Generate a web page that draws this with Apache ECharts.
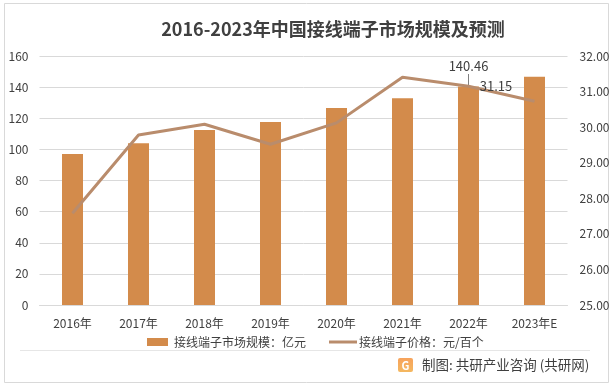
<!DOCTYPE html>
<html><head><meta charset="utf-8">
<script src="https://cdn.jsdelivr.net/npm/echarts@6/dist/echarts.min.js"></script>
<style>html,body{margin:0;padding:0;background:#fff}#c{width:615px;height:388px}</style>
</head><body><div id="c"></div>
<script>
const categories = ['2016年','2017年','2018年','2019年','2020年','2021年','2022年','2023年E'];
const marketSize = [97, 104, 112.5, 117.6, 126.6, 132.8, 140.46, 146.7];
const price = [27.58, 29.78, 30.08, 29.52, 30.12, 31.40, 31.15, 30.73];
const leftTicks = [0, 160, 20];
const rightTicks = [25, 32, 1];
const FONT = '"Noto Sans CJK SC", "Liberation Sans", sans-serif';
const barName = '接线端子市场规模：亿元';
const lineName = '接线端子价格：元/百个';

const chart = echarts.init(document.getElementById('c'));
chart.setOption({
  animation: false,
  backgroundColor: '#fff',
  title: {
    text: '2016-2023年中国接线端子市场规模及预测',
    left: 328, top: 15, textAlign: 'center',
    textStyle: {fontFamily: FONT, fontSize: 18, fontWeight: 'bold', color: '#404040'}
  },
  grid: {left: 39.5, right: 47.5, top: 56, bottom: 83},
  legend: [{
    top: 331, left: 142, itemWidth: 21, itemHeight: 8, itemGap: 0,
    textStyle: {fontFamily: FONT, fontSize: 12, color: '#404040', padding: [0, 0, 0, 1]},
    data: [{name: barName, icon: 'rect'}]
  }, {
    top: 331, left: 324, itemWidth: 28, itemHeight: 3, itemGap: 0,
    textStyle: {fontFamily: FONT, fontSize: 12, color: '#404040', padding: [0, 0, 0, -3]},
    data: [{name: lineName, icon: 'rect', itemStyle: {color: '#B98C6C'}}]
  }],
  xAxis: {
    type: 'category', data: categories,
    axisLine: {lineStyle: {color: '#D9D9D9'}},
    axisTick: {show: false},
    axisLabel: {fontFamily: FONT, fontSize: 12, color: '#404040', margin: 12}
  },
  yAxis: [{
    type: 'value', min: leftTicks[0], max: leftTicks[1], interval: leftTicks[2],
    axisLine: {show: false}, axisTick: {show: false},
    splitLine: {lineStyle: {color: '#D9D9D9'}},
    axisLabel: {fontFamily: FONT, fontSize: 12, color: '#404040', margin: 11}
  }, {
    type: 'value', min: rightTicks[0], max: rightTicks[1], interval: rightTicks[2],
    axisLine: {show: false}, axisTick: {show: false},
    splitLine: {show: false},
    axisLabel: {fontFamily: FONT, fontSize: 12, color: '#404040', margin: 12,
      formatter: v => v.toFixed(2)}
  }],
  series: [{
    name: barName, type: 'bar', data: marketSize, barWidth: 21,
    itemStyle: {color: '#D38B4B'},
    label: {show: true, position: 'top', distance: 14, fontFamily: FONT, fontSize: 13, color: '#404040',
      formatter: p => p.dataIndex === 6 ? p.value.toFixed(2) : ''},
    z: 2
  }, {
    name: lineName, type: 'line', yAxisIndex: 1, data: price,
    symbol: 'circle', symbolSize: 0.5, showSymbol: true,
    lineStyle: {color: '#B98C6C', width: 3}, itemStyle: {color: '#B98C6C'},
    label: {show: true, position: 'right', distance: 11, fontFamily: FONT, fontSize: 13, color: '#404040',
      formatter: p => p.dataIndex === 6 ? p.value.toFixed(2) : ''},
    z: 3
  }],
  graphic: [
    {type: 'rect', shape: {x: 4.5, y: 3.5, width: 604, height: 379}, style: {fill: 'none', stroke: '#D9D9D9', lineWidth: 1}, silent: true},
    {type: 'line', shape: {x1: 20, y1: 350.5, x2: 590, y2: 350.5}, style: {stroke: '#E6E6E6', lineWidth: 1}},
    {type: 'line', shape: {x1: 468.5, y1: 74, x2: 468.5, y2: 85}, style: {stroke: '#808080', lineWidth: 1}},
    {type: 'rect', shape: {x: 398, y: 358, width: 15, height: 14, r: 2},
      style: {fill: new echarts.graphic.LinearGradient(0, 0, 0, 1, [{offset: 0, color: '#F7A35C'}, {offset: 1, color: '#F4B860'}])}},
    {type: 'text', style: {x: 405.5, y: 365.5, text: 'G', fill: '#fff', font: 'bold 11px ' + FONT, align: 'center', verticalAlign: 'middle'}},
    {type: 'text', style: {x: 422, y: 365, text: '制图: 共研产业咨询 (共研网)', fill: '#404040', font: '13.5px ' + FONT, verticalAlign: 'middle'}}
  ]
});
</script></body></html>
